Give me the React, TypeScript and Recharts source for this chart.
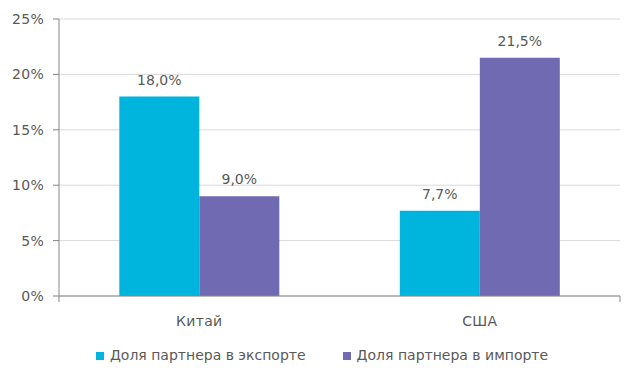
import React from 'react';
import { BarChart, Bar, XAxis, YAxis, CartesianGrid, Legend, LabelList } from 'recharts';

const countries = ['Китай', 'США'];
const exportShare = [18.0, 7.7];
const importShare = [9.0, 21.5];
const yTicks = [0, 5, 10, 15, 20, 25];
const edgeTicks = [0, 1, 2];

const data = countries.map((name, i) => ({
  name,
  exp: exportShare[i],
  imp: importShare[i],
}));

const font = '"DejaVu Sans", Verdana, sans-serif';
const fmt = (v: number) => v.toFixed(1).replace('.', ',') + '%';
const textStyle = { fill: '#595959', fontSize: 14, fontFamily: font, letterSpacing: 0.3 };

export default function App() {
  return (
    <div style={{ position: 'absolute', left: 0, top: 0, width: 640, height: 384, background: '#fff', fontFamily: font }}>
      <BarChart
        width={640}
        height={384}
        data={data}
        margin={{ top: 19, right: 20, left: 0, bottom: 21 }}
        barCategoryGap="21.5%"
        barGap={0}
      >
        <CartesianGrid vertical={false} stroke="#d9d9d9" />
        <XAxis
          xAxisId="b_cat"
          dataKey="name"
          axisLine={false}
          tickLine={false}
          tick={textStyle}
          tickMargin={8}
          height={28}
        />
        {/* category boundary ticks, Excel style */}
        <XAxis
          xAxisId="a_edge"
          type="number"
          domain={[0, 2]}
          ticks={edgeTicks}
          axisLine={{ stroke: '#868686' }}
          tickLine={{ stroke: '#868686' }}
          tickSize={6}
          tickFormatter={() => ''}
          height={6}
        />
        <YAxis
          domain={[0, 25]}
          ticks={yTicks}
          width={59}
          axisLine={{ stroke: '#868686' }}
          tickLine={{ stroke: '#868686' }}
          tickSize={6}
          tickMargin={9}
          tickFormatter={(v) => v + '%'}
          tick={textStyle}
        />
        <Legend
          verticalAlign="bottom"
          iconType="square"
          iconSize={8}
          itemSorter={(item: any) => (item.dataKey === 'exp' ? 0 : 1)}
          wrapperStyle={{ fontSize: 14, fontFamily: font, paddingTop: 17, left: 17 }}
          formatter={(v, entry: any) => (
            <span style={{ color: '#595959', marginLeft: 2, marginRight: entry.dataKey === 'exp' ? 27 : 0 }}>{v}</span>
          )}
        />
        <Bar xAxisId="b_cat" dataKey="exp" name="Доля партнера в экспорте" fill="#00b5dd" isAnimationActive={false}>
          <LabelList dataKey="exp" position="top" offset={12} formatter={fmt} fill="#595959" fontSize={14} fontFamily={font} />
        </Bar>
        <Bar xAxisId="b_cat" dataKey="imp" name="Доля партнера в импорте" fill="#706ab3" isAnimationActive={false}>
          <LabelList dataKey="imp" position="top" offset={12} formatter={fmt} fill="#595959" fontSize={14} fontFamily={font} />
        </Bar>
      </BarChart>
    </div>
  );
}
